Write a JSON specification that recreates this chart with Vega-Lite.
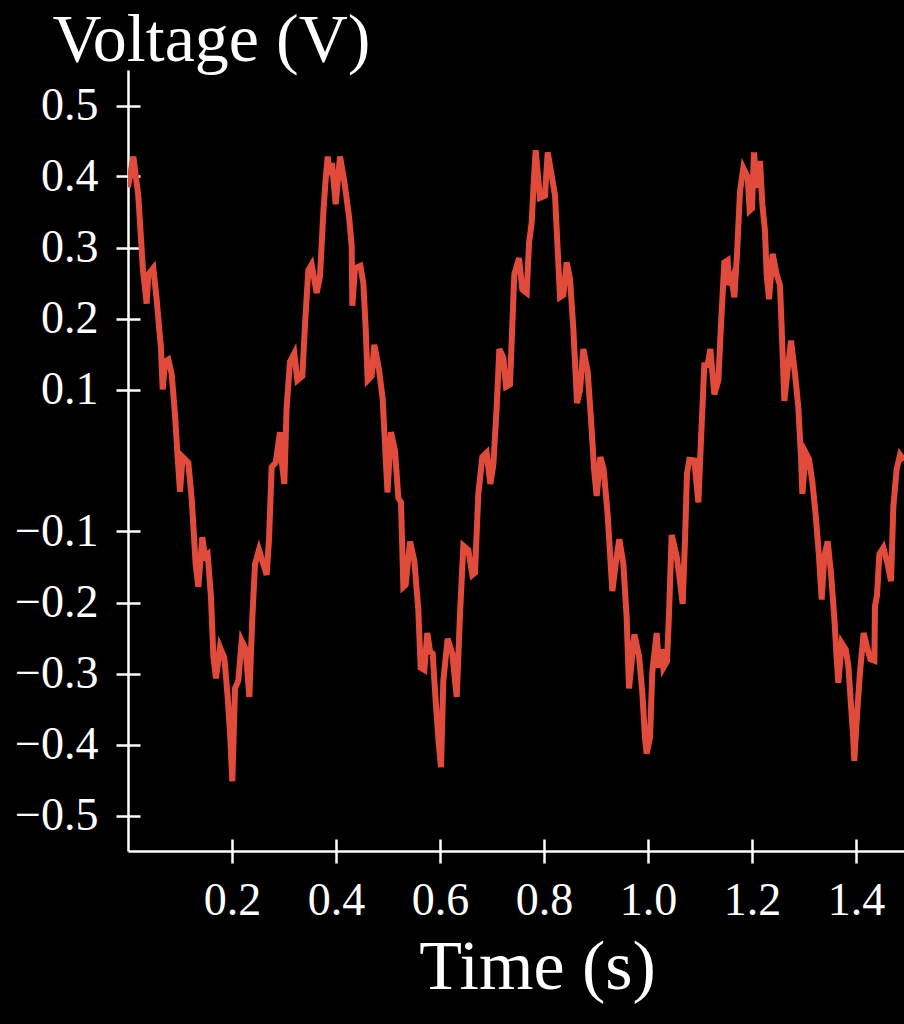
{
  "$schema": "https://vega.github.io/schema/vega-lite/v6.json",
  "width": 776,
  "height": 781,
  "autosize": {"type": "none"},
  "padding": {"left": 128, "top": 70, "right": 0, "bottom": 173},
  "background": "black",
  "config": {
    "view": {"stroke": null},
    "axis": {
      "grid": false,
      "domainColor": "white",
      "domainWidth": 2.5,
      "tickColor": "white",
      "tickWidth": 2.5,
      "labelColor": "white",
      "labelFont": "Liberation Serif",
      "labelFontSize": 46,
      "titleColor": "white",
      "titleFont": "Liberation Serif",
      "titleFontWeight": "normal"
    }
  },
  "data": {
    "values": [
      {"t": 0, "v": 0.385}, {"t": 0.0103, "v": 0.428}, {"t": 0.0198, "v": 0.373}, {"t": 0.0288, "v": 0.268}, {"t": 0.0359, "v": 0.221}, {"t": 0.0391, "v": 0.262}, {"t": 0.0487, "v": 0.271}, {"t": 0.0551, "v": 0.227}, {"t": 0.0635, "v": 0.157}, {"t": 0.0667, "v": 0.1}, {"t": 0.0712, "v": 0.139}, {"t": 0.0776, "v": 0.142}, {"t": 0.084, "v": 0.122}, {"t": 0.0904, "v": 0.064}, {"t": 0.0955, "v": 0.005}, {"t": 0.1, "v": -0.044}, {"t": 0.1051, "v": 0.005}, {"t": 0.116, "v": -0.003}, {"t": 0.1224, "v": -0.053}, {"t": 0.1301, "v": -0.146}, {"t": 0.1353, "v": -0.178}, {"t": 0.1429, "v": -0.108}, {"t": 0.1481, "v": -0.135}, {"t": 0.1532, "v": -0.132}, {"t": 0.1596, "v": -0.193}, {"t": 0.1641, "v": -0.275}, {"t": 0.1692, "v": -0.307}, {"t": 0.1769, "v": -0.263}, {"t": 0.1853, "v": -0.278}, {"t": 0.1917, "v": -0.333}, {"t": 0.1968, "v": -0.391}, {"t": 0.2006, "v": -0.452}, {"t": 0.2058, "v": -0.321}, {"t": 0.2122, "v": -0.31}, {"t": 0.2186, "v": -0.254}, {"t": 0.2263, "v": -0.266}, {"t": 0.2333, "v": -0.333}, {"t": 0.2391, "v": -0.222}, {"t": 0.2442, "v": -0.146}, {"t": 0.2519, "v": -0.126},
      {"t": 0.2603, "v": -0.146}, {"t": 0.2667, "v": -0.161}, {"t": 0.2712, "v": -0.111}, {"t": 0.2763, "v": -0.009}, {"t": 0.284, "v": -0.003}, {"t": 0.2923, "v": 0.04}, {"t": 0.2955, "v": 0.0}, {"t": 0.3006, "v": -0.033}, {"t": 0.3051, "v": 0.075}, {"t": 0.3115, "v": 0.139}, {"t": 0.3199, "v": 0.151}, {"t": 0.3256, "v": 0.113}, {"t": 0.3353, "v": 0.119}, {"t": 0.3404, "v": 0.192}, {"t": 0.3468, "v": 0.268}, {"t": 0.3532, "v": 0.276}, {"t": 0.3628, "v": 0.236}, {"t": 0.3692, "v": 0.259}, {"t": 0.3756, "v": 0.349}, {"t": 0.3801, "v": 0.396}, {"t": 0.384, "v": 0.428}, {"t": 0.3885, "v": 0.402}, {"t": 0.3923, "v": 0.419}, {"t": 0.3994, "v": 0.361}, {"t": 0.4077, "v": 0.428}, {"t": 0.416, "v": 0.393}, {"t": 0.425, "v": 0.344}, {"t": 0.4301, "v": 0.303}, {"t": 0.4314, "v": 0.218}, {"t": 0.4365, "v": 0.271}, {"t": 0.4468, "v": 0.274}, {"t": 0.4526, "v": 0.25}, {"t": 0.4571, "v": 0.186}, {"t": 0.4609, "v": 0.113}, {"t": 0.4686, "v": 0.119}, {"t": 0.4737, "v": 0.163}, {"t": 0.4827, "v": 0.128}, {"t": 0.4897, "v": 0.087},
      {"t": 0.499, "v": -0.045}, {"t": 0.5058, "v": 0.04}, {"t": 0.5135, "v": 0.014}, {"t": 0.5199, "v": -0.053}, {"t": 0.525, "v": -0.059}, {"t": 0.5295, "v": -0.178}, {"t": 0.534, "v": -0.175}, {"t": 0.5423, "v": -0.114}, {"t": 0.5506, "v": -0.141}, {"t": 0.5583, "v": -0.21}, {"t": 0.5628, "v": -0.292}, {"t": 0.5699, "v": -0.295}, {"t": 0.5756, "v": -0.243}, {"t": 0.5808, "v": -0.269}, {"t": 0.5859, "v": -0.272}, {"t": 0.5917, "v": -0.339}, {"t": 0.5968, "v": -0.391}, {"t": 0.6019, "v": -0.432}, {"t": 0.6064, "v": -0.31}, {"t": 0.6147, "v": -0.251}, {"t": 0.6237, "v": -0.272}, {"t": 0.6321, "v": -0.333}, {"t": 0.6385, "v": -0.216}, {"t": 0.6449, "v": -0.12}, {"t": 0.6545, "v": -0.126}, {"t": 0.6622, "v": -0.161}, {"t": 0.6673, "v": -0.158}, {"t": 0.6737, "v": -0.047}, {"t": 0.6814, "v": 0.005}, {"t": 0.6897, "v": 0.011}, {"t": 0.6968, "v": -0.033}, {"t": 0.7026, "v": -0.006}, {"t": 0.709, "v": 0.075}, {"t": 0.7141, "v": 0.157}, {"t": 0.7218, "v": 0.145}, {"t": 0.7269, "v": 0.104}, {"t": 0.7346, "v": 0.107}, {"t": 0.7429, "v": 0.262},
      {"t": 0.7519, "v": 0.285}, {"t": 0.7583, "v": 0.241}, {"t": 0.7667, "v": 0.236}, {"t": 0.7712, "v": 0.306}, {"t": 0.7763, "v": 0.335}, {"t": 0.7801, "v": 0.39}, {"t": 0.784, "v": 0.437}, {"t": 0.7923, "v": 0.37}, {"t": 0.8019, "v": 0.373}, {"t": 0.8071, "v": 0.434}, {"t": 0.816, "v": 0.396}, {"t": 0.8212, "v": 0.373}, {"t": 0.8263, "v": 0.297}, {"t": 0.8308, "v": 0.23}, {"t": 0.8372, "v": 0.233}, {"t": 0.8436, "v": 0.279}, {"t": 0.85, "v": 0.256}, {"t": 0.8564, "v": 0.186}, {"t": 0.8635, "v": 0.081}, {"t": 0.8692, "v": 0.099}, {"t": 0.8756, "v": 0.157}, {"t": 0.884, "v": 0.125}, {"t": 0.8904, "v": 0.058}, {"t": 0.8962, "v": -0.012}, {"t": 0.9013, "v": -0.05}, {"t": 0.9083, "v": 0.005}, {"t": 0.9147, "v": -0.012}, {"t": 0.9224, "v": -0.076}, {"t": 0.9314, "v": -0.184}, {"t": 0.9397, "v": -0.135}, {"t": 0.9449, "v": -0.111}, {"t": 0.9526, "v": -0.146}, {"t": 0.959, "v": -0.222}, {"t": 0.9635, "v": -0.321}, {"t": 0.9686, "v": -0.283}, {"t": 0.9737, "v": -0.245}, {"t": 0.9827, "v": -0.275}, {"t": 0.9891, "v": -0.327}, {"t": 0.9942, "v": -0.39},
      {"t": 0.9974, "v": -0.413}, {"t": 1.0038, "v": -0.391}, {"t": 1.0083, "v": -0.298}, {"t": 1.0167, "v": -0.243}, {"t": 1.0212, "v": -0.292}, {"t": 1.0263, "v": -0.266}, {"t": 1.0295, "v": -0.292}, {"t": 1.0365, "v": -0.283}, {"t": 1.0404, "v": -0.216}, {"t": 1.0455, "v": -0.105}, {"t": 1.0551, "v": -0.135}, {"t": 1.0615, "v": -0.17}, {"t": 1.0667, "v": -0.202}, {"t": 1.0712, "v": -0.111}, {"t": 1.075, "v": -0.018}, {"t": 1.0795, "v": 0.001}, {"t": 1.0891, "v": 0.0}, {"t": 1.0968, "v": -0.059}, {"t": 1.1019, "v": 0.029}, {"t": 1.1083, "v": 0.134}, {"t": 1.1147, "v": 0.134}, {"t": 1.1199, "v": 0.157}, {"t": 1.1276, "v": 0.093}, {"t": 1.1353, "v": 0.113}, {"t": 1.1404, "v": 0.192}, {"t": 1.1468, "v": 0.279}, {"t": 1.1532, "v": 0.282}, {"t": 1.1558, "v": 0.247}, {"t": 1.1609, "v": 0.256}, {"t": 1.166, "v": 0.23}, {"t": 1.1712, "v": 0.291}, {"t": 1.1769, "v": 0.379}, {"t": 1.1833, "v": 0.412}, {"t": 1.1917, "v": 0.399}, {"t": 1.1955, "v": 0.352}, {"t": 1.2, "v": 0.355}, {"t": 1.2038, "v": 0.434}, {"t": 1.209, "v": 0.384}, {"t": 1.2154, "v": 0.422}, {"t": 1.2199, "v": 0.361}, {"t": 1.225, "v": 0.323}, {"t": 1.2282, "v": 0.262}, {"t": 1.2327, "v": 0.227}, {"t": 1.2397, "v": 0.291}, {"t": 1.2474, "v": 0.262},
      {"t": 1.2538, "v": 0.247}, {"t": 1.2571, "v": 0.186}, {"t": 1.2622, "v": 0.084}, {"t": 1.2686, "v": 0.128}, {"t": 1.275, "v": 0.169}, {"t": 1.2827, "v": 0.122}, {"t": 1.2891, "v": 0.075}, {"t": 1.2942, "v": 0.005}, {"t": 1.2968, "v": -0.047}, {"t": 1.3032, "v": 0.011}, {"t": 1.3096, "v": 0.002}, {"t": 1.316, "v": -0.03}, {"t": 1.3224, "v": -0.076}, {"t": 1.3288, "v": -0.135}, {"t": 1.334, "v": -0.196}, {"t": 1.3391, "v": -0.135}, {"t": 1.3455, "v": -0.114}, {"t": 1.3519, "v": -0.158}, {"t": 1.3583, "v": -0.222}, {"t": 1.3628, "v": -0.278}, {"t": 1.366, "v": -0.313}, {"t": 1.3724, "v": -0.257}, {"t": 1.3801, "v": -0.266}, {"t": 1.3853, "v": -0.289}, {"t": 1.3904, "v": -0.345}, {"t": 1.3942, "v": -0.385}, {"t": 1.3968, "v": -0.423}, {"t": 1.4019, "v": -0.359}, {"t": 1.4077, "v": -0.298}, {"t": 1.4147, "v": -0.243}, {"t": 1.4212, "v": -0.263}, {"t": 1.4276, "v": -0.28}, {"t": 1.4353, "v": -0.282}, {"t": 1.4365, "v": -0.205}, {"t": 1.4404, "v": -0.19}, {"t": 1.4449, "v": -0.132}, {"t": 1.4526, "v": -0.123}, {"t": 1.4609, "v": -0.146}, {"t": 1.4673, "v": -0.17}, {"t": 1.4718, "v": -0.065}, {"t": 1.4782, "v": -0.012}, {"t": 1.4846, "v": 0.008}, {"t": 1.4923, "v": 0.0}
    ]
  },
  "layer": [
    {
      "mark": {"type": "line", "color": "#E14B3C", "strokeWidth": 6, "strokeJoin": "miter", "strokeMiterLimit": 4, "clip": true},
      "encoding": {
        "x": {
          "field": "t", "type": "quantitative",
          "scale": {"domain": [0, 1.4923], "nice": false, "zero": false},
          "axis": {
            "orient": "bottom",
            "values": [0.2, 0.4, 0.6, 0.8, 1.0, 1.2, 1.4],
            "format": ".1f",
            "tickSize": 12,
            "labelPadding": 15,
            "labelFlush": false,
            "title": "Time (s)",
            "titleFontSize": 70,
            "titleAnchor": null,
            "titleAlign": "center",
            "titleBaseline": "alphabetic",
            "titleX": 409,
            "titleY": 137
          }
        },
        "y": {
          "field": "v", "type": "quantitative",
          "scale": {"domain": [-0.55, 0.55], "nice": false, "zero": false},
          "axis": {
            "orient": "left",
            "values": [-0.5, -0.4, -0.3, -0.2, -0.1, 0.1, 0.2, 0.3, 0.4, 0.5],
            "format": ".1f",
            "tickSize": 12,
            "labelPadding": 18,
            "labelFlush": false,
            "title": "Voltage (V)",
            "titleFontSize": 68,
            "titleAngle": 0,
            "titleAnchor": null,
            "titleAlign": "left",
            "titleBaseline": "alphabetic",
            "titleX": -76,
            "titleY": -10
          }
        }
      }
    },
    {
      "mark": {"type": "line", "opacity": 0},
      "encoding": {
        "x": {
          "field": "t", "type": "quantitative",
          "axis": {
            "orient": "bottom",
            "values": [0.2, 0.4, 0.6, 0.8, 1.0, 1.2, 1.4],
            "tickSize": -12,
            "labels": false,
            "domain": false,
            "title": null
          }
        },
        "y": {
          "field": "v", "type": "quantitative",
          "axis": {
            "orient": "left",
            "values": [-0.5, -0.4, -0.3, -0.2, -0.1, 0.1, 0.2, 0.3, 0.4, 0.5],
            "tickSize": -12,
            "labels": false,
            "domain": false,
            "title": null
          }
        }
      }
    }
  ],
  "resolve": {"axis": {"x": "independent", "y": "independent"}}
}
